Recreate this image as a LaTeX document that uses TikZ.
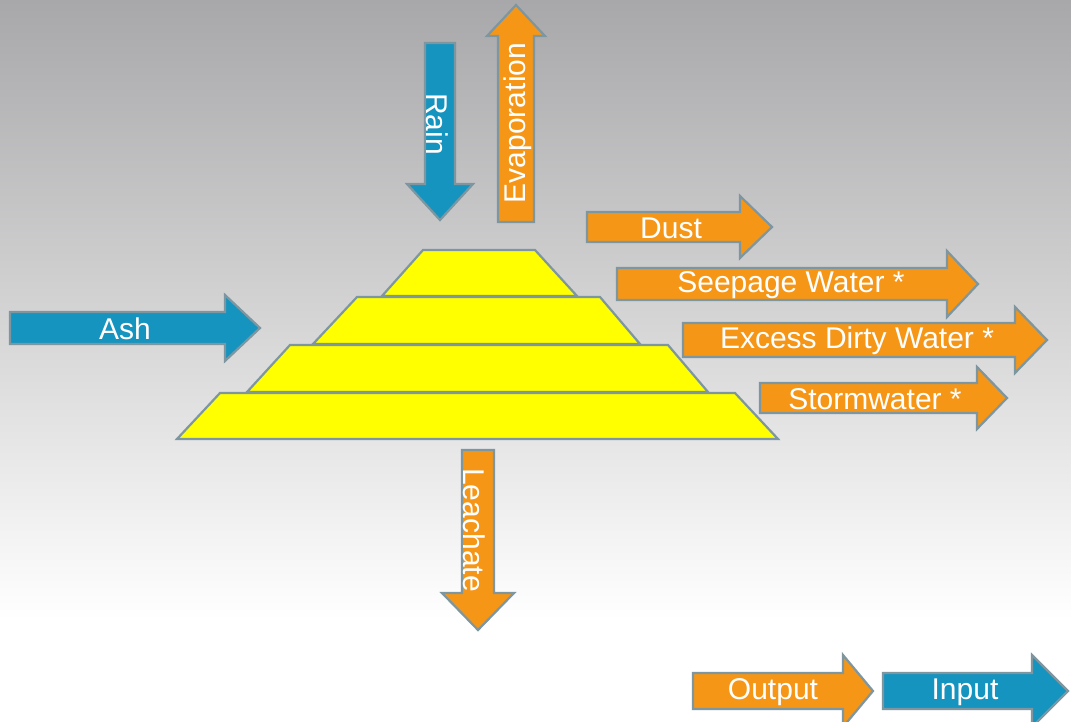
\documentclass[tikz,border=0pt]{standalone}
\usepackage{fontspec}
\setmainfont{Liberation Sans}
\usepackage{tikz}
\pgfdeclarelayer{background}
\pgfsetlayers{background,main}

\definecolor{inblue}{RGB}{22,148,192}
\definecolor{outorange}{RGB}{246,150,22}
\definecolor{edgegray}{RGB}{125,150,160}
\definecolor{bggray}{RGB}{168,168,170}
\definecolor{layeryellow}{RGB}{255,255,0}

\tikzset{
  edgeline/.style={draw=edgegray,line width=2.2pt,line join=miter},
  flowtext/.style={text=white,font=\fontsize{30}{35}\selectfont,inner sep=0pt}
}

% horizontal block arrow: colour, start x, head x, tip x, centre y, half shaft, half head
\newcommand{\hblock}[7]{\draw[edgeline,fill=#1] (#2,#5-#6) -- (#3,#5-#6) -- (#3,#5-#7) -- (#4,#5) -- (#3,#5+#7) -- (#3,#5+#6) -- (#2,#5+#6) -- cycle;}
% vertical block arrow: colour, centre x, start y, head y, tip y, half shaft, half head
\newcommand{\vblock}[7]{\draw[edgeline,fill=#1] (#2-#6,#3) -- (#2-#6,#4) -- (#2-#7,#4) -- (#2,#5) -- (#2+#7,#4) -- (#2+#6,#4) -- (#2+#6,#3) -- cycle;}

\begin{document}
\begin{tikzpicture}[x=1pt,y=-1pt]
\useasboundingbox (0,0) rectangle (1071,722);
\begin{pgfonlayer}{background}
\fill[white] (0,0) rectangle (1071,722);
\shade[top color=bggray,bottom color=white] (0,0) rectangle (1071,620);
\end{pgfonlayer}

% pyramid
\draw[edgeline,fill=layeryellow] (177,439) -- (778,439) -- (735,393) -- (220,393) -- cycle;
\draw[edgeline,fill=layeryellow] (247,392) -- (708,392) -- (668,345) -- (290,345) -- cycle;
\draw[edgeline,fill=layeryellow] (313,344) -- (640,344) -- (600,297) -- (357,297) -- cycle;
\draw[edgeline,fill=layeryellow] (382,296) -- (577,296) -- (535,250) -- (423,250) -- cycle;

% inputs
\hblock{inblue}{10}{225}{260}{328}{16}{33}
\node[flowtext] (ash) at (125,329) {Ash};
\vblock{inblue}{440}{43}{184}{220}{15}{33}
\node[flowtext,rotate=-90] (rain) at (437,124) {Rain};

% outputs
\vblock{outorange}{516}{222}{36}{5}{18}{29}
\node[flowtext,rotate=90] (evap) at (518,123) {Evaporation};
\vblock{outorange}{478}{450}{593}{630}{16}{36}
\node[flowtext,rotate=-90] (leach) at (474,530) {Leachate};
\hblock{outorange}{587}{740}{772}{227}{15}{31}
\node[flowtext] (dust) at (671,228) {Dust};
\hblock{outorange}{617}{947}{978}{284}{16}{33}
\node[flowtext] (seepage) at (791,285) {Seepage Water *};
\hblock{outorange}{683}{1015}{1047}{340}{17}{33}
\node[flowtext] (excess) at (857,341) {Excess Dirty Water *};
\hblock{outorange}{760}{977}{1007}{398}{15}{31}
\node[flowtext] (storm) at (875,399) {Stormwater *};

% legend
\hblock{outorange}{693}{843}{873}{691}{18}{36}
\node[flowtext] (output) at (773,692) {Output};
\hblock{inblue}{883}{1032}{1068}{691}{18}{36}
\node[flowtext] (input) at (965,692) {Input};
\end{tikzpicture}
\end{document}
